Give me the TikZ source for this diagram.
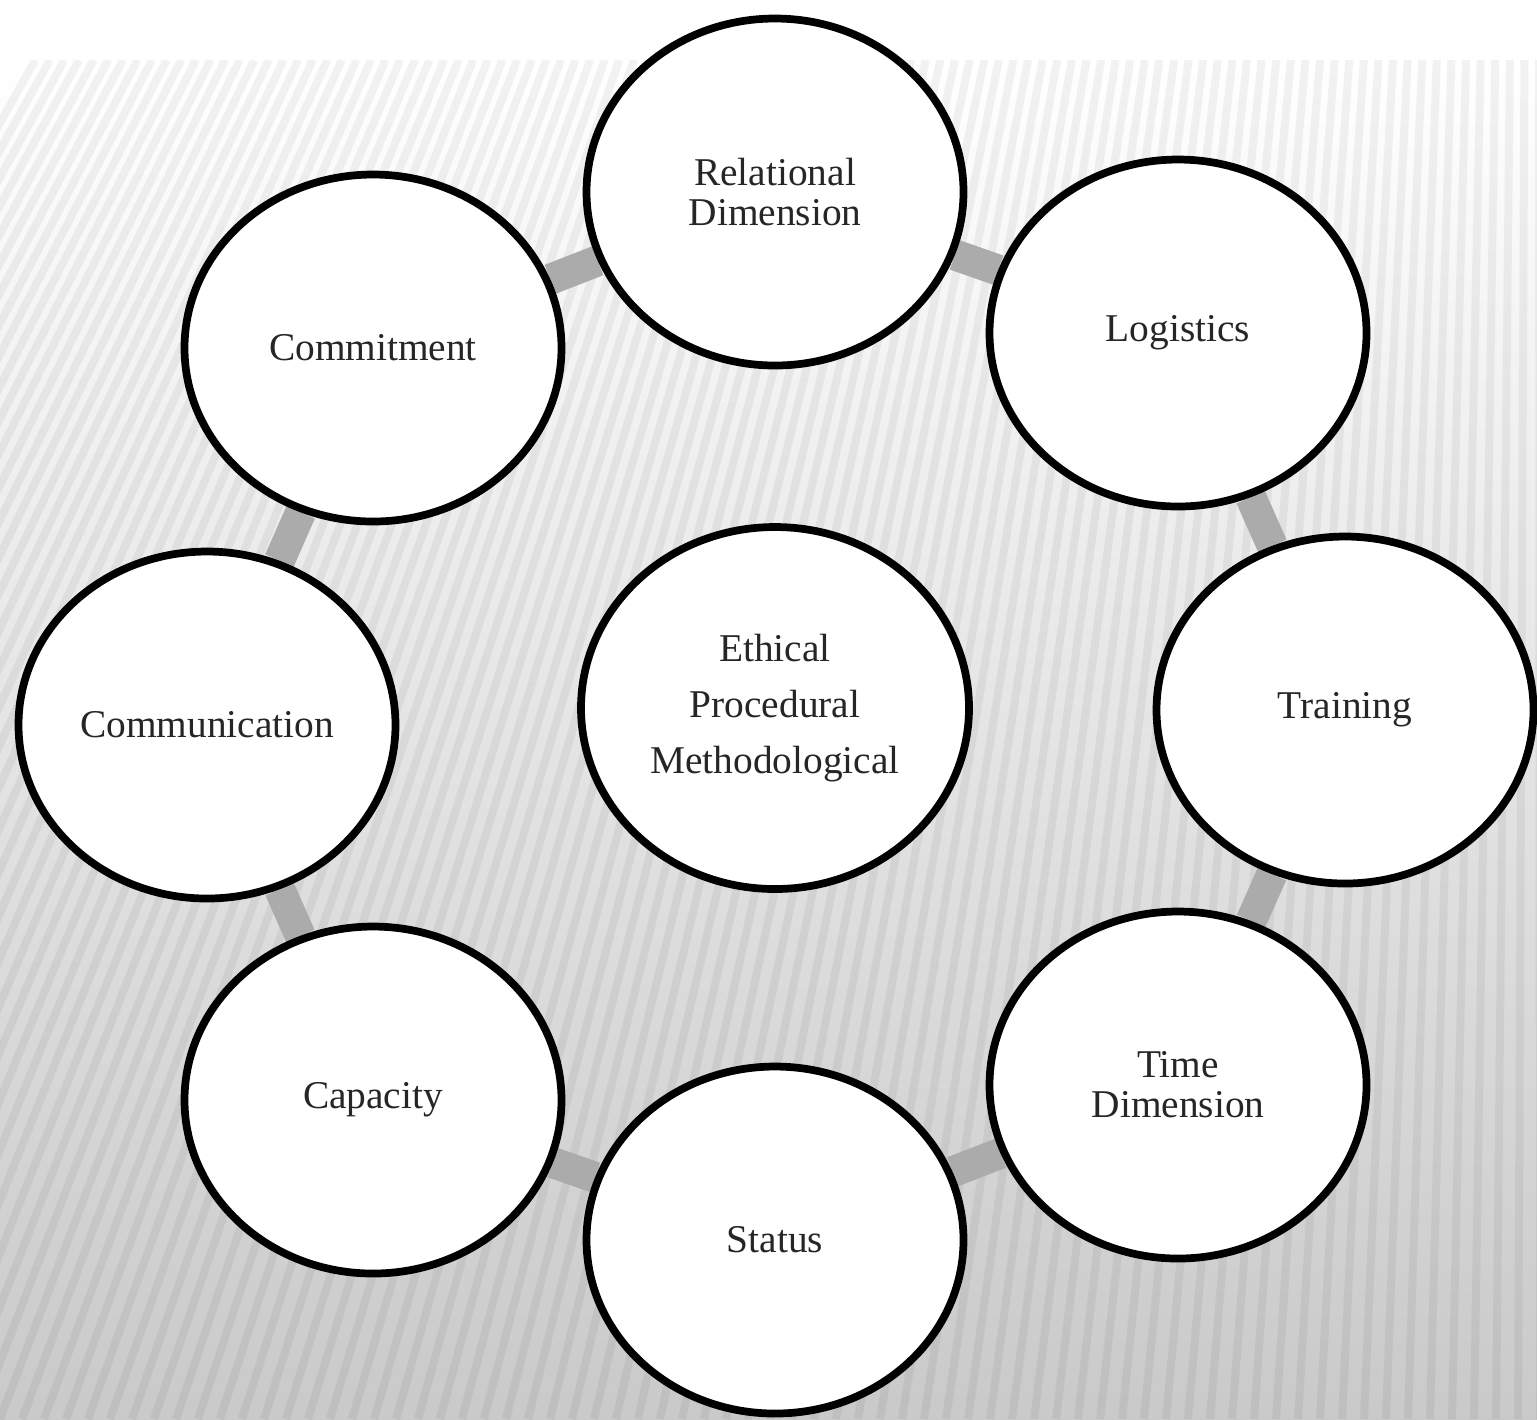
\documentclass[tikz,border=0pt]{standalone}
\usepackage{fontspec}
\setmainfont{Liberation Serif}
\usetikzlibrary{shapes.geometric,backgrounds}
\begin{document}
\begin{tikzpicture}[
    bubble/.style={draw, ellipse, line width=2.2pt, fill=white, text=black!85,
      minimum width=3.77cm, minimum height=3.47cm, align=center, inner sep=0pt,
      font=\fontsize{11.2}{11.4}\selectfont},
    link/.style={line width=0.31cm, black!33}
  ]
  \useasboundingbox (0,0) rectangle (15.37,-14.19);
  \node[bubble] (1) at (7.75,-1.92) {Relational\\Dimension};
  \node[bubble] (2) at (11.78,-3.33) {Logistics};
  \node[bubble] (3) at (13.45,-7.10) {Training};
  \node[bubble] (4) at (11.78,-10.85) {Time\\Dimension};
  \node[bubble] (5) at (7.75,-12.40) {Status};
  \node[bubble] (6) at (3.73,-11.00) {Capacity};
  \node[bubble] (7) at (2.07,-7.25) {Communication};
  \node[bubble] (8) at (3.73,-3.48) {Commitment};
  \node[bubble, minimum width=3.88cm, minimum height=3.62cm,
    font=\fontsize{11.2}{15.9}\selectfont] (0) at (7.75,-7.08) {Ethical\\Procedural\\Methodological};
  \begin{scope}[on background layer]
    % striped backdrop
    \fill[white] (0,0) rectangle (15.37,-0.6);
    \shade[top color=white, middle color=black!4, bottom color=black!21] (0,-0.6) rectangle (15.37,-14.19);
    \begin{scope}
      \clip (0,-0.6) rectangle (15.37,-14.19);
      \foreach \i in {-33,...,71}
        \draw[black, opacity=0.05, line width=0.08cm] ({\i*0.22},-14.19) -- ({\i*0.22+5.17*(1-\i*0.22/15.37)},-0.6);
    \end{scope}
    % ring
    \foreach \a/\b in {1/2,2/3,3/4,4/5,5/6,6/7,7/8,8/1}
      \draw[link] (\a) -- (\b);
  \end{scope}
\end{tikzpicture}
\end{document}
